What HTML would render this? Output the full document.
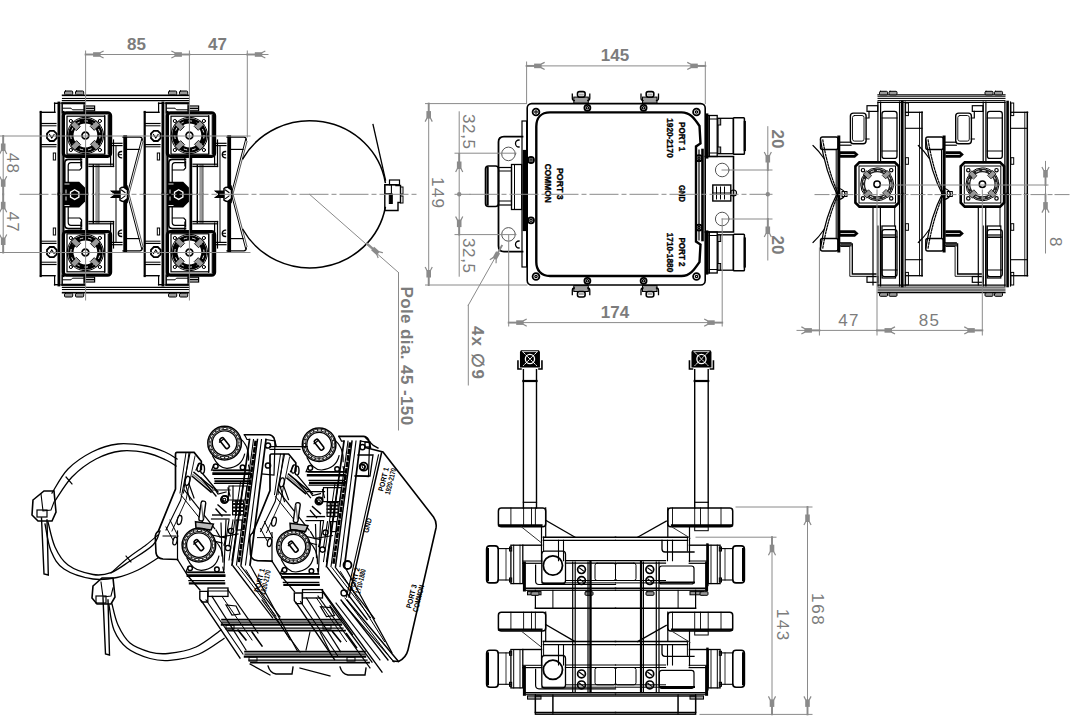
<!DOCTYPE html>
<html><head><meta charset="utf-8"><style>
html,body{margin:0;padding:0;background:#fff;overflow:hidden;width:1070px;height:726px;}
svg{display:block;font-family:"Liberation Sans",sans-serif;}
</style></head><body>
<svg width="1070" height="726" viewBox="0 0 1070 726" stroke-linecap="square">
<defs><g id="lh"><line x1="40.7" y1="112" x2="40.7" y2="194" stroke="#000" stroke-width="2.2"/><line x1="40.5" y1="112.3" x2="55" y2="112.3" stroke="#000" stroke-width="1.4"/><line x1="41" y1="123.5" x2="56" y2="123.5" stroke="#000" stroke-width="1.2"/><line x1="41" y1="125.8" x2="56" y2="125.8" stroke="#000" stroke-width="1"/><line x1="41" y1="144.6" x2="56" y2="144.6" stroke="#000" stroke-width="1.2"/><line x1="41" y1="146.8" x2="56" y2="146.8" stroke="#000" stroke-width="1"/><polygon points="49.8,130.8 53.8,130.8 56.6,133.6 56.6,138.2 53.8,141 49.8,141 47,138.2 47,133.6" fill="none" stroke="#000" stroke-width="1.8"/><path d="M49.5,134.5 L51.8,138 L54.1,134.5" stroke="#000" stroke-width="1.1" fill="none" /><line x1="54.6" y1="103" x2="54.6" y2="112" stroke="#000" stroke-width="1.2"/><line x1="54.6" y1="103.3" x2="62" y2="103.3" stroke="#000" stroke-width="1.4"/><line x1="58.9" y1="103" x2="58.9" y2="194" stroke="#000" stroke-width="2.8"/><line x1="61.3" y1="103" x2="61.3" y2="194" stroke="#999" stroke-width="1.6"/><line x1="63.4" y1="112" x2="63.4" y2="194" stroke="#000" stroke-width="2.2"/><rect x="53.3" y="153" width="2.3" height="7" stroke="#000" stroke-width="1" fill="none" rx="0"/><rect x="62.3" y="103.6" width="21.8" height="9.2" stroke="#000" stroke-width="1.2" fill="none" rx="0"/><path d="M62.8,108.2 H71 L72.5,109.8 H84" stroke="#000" stroke-width="1" fill="none" /><rect x="84.3" y="106" width="10.3" height="4.8" stroke="#000" stroke-width="1.2" fill="#fff" rx="0"/><line x1="85" y1="108.4" x2="94" y2="108.4" stroke="#000" stroke-width="1.6"/><rect x="63.400000000000006" y="112.8" width="47.2" height="43.5" stroke="#000" stroke-width="3.2" fill="none" rx="3"/><rect x="67.0" y="116.2" width="37.8" height="38" stroke="#000" stroke-width="1.2" fill="none" rx="0"/><line x1="104.7" y1="115.5" x2="104.7" y2="153.5" stroke="#000" stroke-width="1"/><line x1="108.30000000000001" y1="115.5" x2="108.30000000000001" y2="153.5" stroke="#000" stroke-width="1.2"/><circle cx="85.4" cy="135.5" r="14.6" stroke="#000" stroke-width="5.4" fill="none"/><circle cx="85.4" cy="135.5" r="14.6" fill="none" stroke="#fff" stroke-width="0.9" stroke-dasharray="2.5,6"/><circle cx="85.4" cy="135.5" r="18.2" stroke="#000" stroke-width="1" fill="none"/><rect x="92.6" y="141.3" width="5.2" height="8" fill="#9a9a9a" stroke="#000" stroke-width="0.8" transform="rotate(135 95.2 145.3)"/><circle cx="99.9" cy="150.0" r="1.6" stroke="#000" stroke-width="1" fill="none"/><rect x="73.0" y="141.3" width="5.2" height="8" fill="#9a9a9a" stroke="#000" stroke-width="0.8" transform="rotate(225 75.6 145.3)"/><circle cx="70.9" cy="150.0" r="1.6" stroke="#000" stroke-width="1" fill="none"/><rect x="73.0" y="121.7" width="5.2" height="8" fill="#9a9a9a" stroke="#000" stroke-width="0.8" transform="rotate(315 75.6 125.7)"/><circle cx="70.9" cy="121.0" r="1.6" stroke="#000" stroke-width="1" fill="none"/><rect x="92.6" y="121.7" width="5.2" height="8" fill="#9a9a9a" stroke="#000" stroke-width="0.8" transform="rotate(405 95.2 125.7)"/><circle cx="99.9" cy="121.0" r="1.6" stroke="#000" stroke-width="1" fill="none"/><circle cx="85.4" cy="135.5" r="3.4" stroke="#000" stroke-width="1.8" fill="none"/><path d="M81.5,159.4 H68.5 Q64.8,159.4 64.8,163 V194" stroke="#000" stroke-width="1.6" fill="none" /><path d="M81.5,162.6 H71 Q68.2,162.6 68.2,166 V194" stroke="#000" stroke-width="1.2" fill="none" /><path d="M68.5,170 H79.8 L81.6,168 V161" stroke="#000" stroke-width="1.2" fill="none" /><line x1="80.8" y1="157.5" x2="80.8" y2="166" stroke="#000" stroke-width="1"/><line x1="86.6" y1="159" x2="86.6" y2="194" stroke="#000" stroke-width="3.2"/><line x1="93.3" y1="165" x2="93.3" y2="194" stroke="#000" stroke-width="1.4"/><line x1="98.8" y1="165" x2="98.8" y2="194" stroke="#000" stroke-width="1.1"/><line x1="97" y1="166" x2="97" y2="194" stroke="#999" stroke-width="3.3"/><line x1="110.6" y1="150" x2="110.6" y2="165" stroke="#000" stroke-width="1.2"/><line x1="113.5" y1="140" x2="113.5" y2="166.5" stroke="#000" stroke-width="1.2"/><line x1="89" y1="164.2" x2="113.5" y2="164.2" stroke="#000" stroke-width="1.2"/><line x1="89" y1="166.4" x2="113.5" y2="166.4" stroke="#000" stroke-width="1.4"/><line x1="112" y1="143.3" x2="122" y2="143.3" stroke="#000" stroke-width="1.2"/><line x1="112" y1="145.6" x2="122" y2="145.6" stroke="#000" stroke-width="1.2"/><line x1="116" y1="145.6" x2="116" y2="194" stroke="#000" stroke-width="1"/><path d="M121.5,151.5 A3.2,3.2 0 0 0 121.5,157.9" stroke="#000" stroke-width="1.4" fill="none" /><line x1="118.5" y1="154.7" x2="121.5" y2="154.7" stroke="#000" stroke-width="1"/><line x1="125.2" y1="137" x2="125.2" y2="194" stroke="#000" stroke-width="3.8"/><path d="M123,137.2 H139.8 Q142.3,137.2 142.3,140" stroke="#000" stroke-width="1.3" fill="none" /><line x1="126.5" y1="149.4" x2="139" y2="149.4" stroke="#000" stroke-width="1.2"/><path d="M141.6,139.5 L127.4,193.5" stroke="#000" stroke-width="1" fill="none" /><path d="M143,141.5 L129,194" stroke="#555" stroke-width="1" fill="none" /></g><g id="lc"><polygon points="63.3,181.8 79.2,181.8 85.2,187.8 85.2,201.4 79.2,207.6 63.3,207.6" fill="#000"/><polygon points="74.7,189.7 78.9,192.1 78.9,197 74.7,199.4 70.5,197 70.5,192.1" fill="none" stroke="#fff" stroke-width="1.3"/><path d="M65,184 h4 M65,205.5 h4 M66,190 v3 M66,197 v3" stroke="#fff" stroke-width="0.9"/><path d="M110,190.6 H120 V198 H110 L113,194.3 Z" fill="#000"/><path d="M111,192.2 L114,194.3 L111,196.4" stroke="#fff" stroke-width="1" fill="none"/><path d="M120,188.5 Q122,186.8 124,187.3 L127.5,190 V198.6 L124,201.3 Q122,201.8 120,200.1 Z" fill="#fff" stroke="#000" stroke-width="1.5"/><path d="M121.5,190 L125,192.5 M121.5,198.6 L125,196" stroke="#000" stroke-width="1.1" fill="none" /><path d="M127.2,186 Q129,194.3 127.2,202.6" stroke="#000" stroke-width="1.2" fill="none" /></g><g id="bh"><line x1="541.5" y1="526.7" x2="541.5" y2="561.5" stroke="#000" stroke-width="1.2"/><line x1="543.6" y1="537" x2="543.6" y2="551" stroke="#000" stroke-width="1"/><line x1="543.4" y1="537.2" x2="615.5" y2="537.2" stroke="#000" stroke-width="1.6"/><line x1="543.4" y1="540.3" x2="615.5" y2="540.3" stroke="#000" stroke-width="1.2"/><line x1="558.5" y1="540.3" x2="558.5" y2="560.7" stroke="#000" stroke-width="1.1"/><line x1="563.5" y1="540.3" x2="563.5" y2="560.7" stroke="#000" stroke-width="1.1"/><rect x="486.6" y="545.9" width="11.6" height="37" stroke="#000" stroke-width="1.6" fill="none" rx="3.2"/><line x1="488" y1="549" x2="488" y2="580" stroke="#000" stroke-width="2"/><line x1="498.2" y1="548.6" x2="510.9" y2="548.6" stroke="#000" stroke-width="1.1"/><line x1="498.2" y1="580" x2="510.9" y2="580" stroke="#000" stroke-width="1.1"/><line x1="506" y1="548.6" x2="506" y2="580" stroke="#000" stroke-width="0.8"/><rect x="510.9" y="545.2" width="11.9" height="38.4" stroke="#000" stroke-width="1.3" fill="none" rx="0"/><line x1="513.7" y1="545.2" x2="513.7" y2="583.6" stroke="#000" stroke-width="1"/><line x1="520" y1="545.2" x2="520" y2="583.6" stroke="#000" stroke-width="0.9"/><rect x="509.5" y="547" width="2.2" height="4" stroke="#000" stroke-width="1" fill="none" rx="0"/><rect x="509.5" y="578" width="2.2" height="4" stroke="#000" stroke-width="1" fill="none" rx="0"/><line x1="522.8" y1="545.2" x2="541.5" y2="545.2" stroke="#000" stroke-width="1.4"/><line x1="524.4" y1="563" x2="524.4" y2="590" stroke="#000" stroke-width="3"/><line x1="522.8" y1="563.3" x2="541.8" y2="563.3" stroke="#000" stroke-width="1.2"/><line x1="522.8" y1="561" x2="541.8" y2="561" stroke="#000" stroke-width="1"/><line x1="565.5" y1="560.7" x2="615.5" y2="560.7" stroke="#000" stroke-width="1.2"/><line x1="565.5" y1="563.2" x2="615.5" y2="563.2" stroke="#000" stroke-width="1.2"/><line x1="565.5" y1="580.5" x2="615.5" y2="580.5" stroke="#000" stroke-width="1"/><line x1="541.8" y1="582.9" x2="615.5" y2="582.9" stroke="#000" stroke-width="1"/><line x1="526" y1="588.4" x2="615.5" y2="588.4" stroke="#000" stroke-width="1.6"/><line x1="526" y1="590.4" x2="615.5" y2="590.4" stroke="#000" stroke-width="1"/><rect x="595" y="563.2" width="20.5" height="17.3" stroke="#000" stroke-width="1" fill="none" rx="2"/><rect x="527.5" y="591.6" width="13.5" height="3.2" stroke="#000" stroke-width="1" fill="#999" rx="0"/><line x1="535.4" y1="590.4" x2="535.4" y2="608.2" stroke="#000" stroke-width="1.2"/><line x1="552.9" y1="590.4" x2="552.9" y2="608.2" stroke="#000" stroke-width="1"/><line x1="535.4" y1="608.2" x2="615.5" y2="608.2" stroke="#000" stroke-width="1.4"/></g><g id="im"><path d="M201.3,469.4 V461.2 L194.1,452.4 H177 Q175.5,452.4 175.5,454.5 V489 L158.3,531.3" stroke="#000" stroke-width="1.7" fill="none" /><path d="M190,452.9 L180.7,500 L166,530" stroke="#000" stroke-width="1.1" fill="none" /><path d="M195,456 L186,500 L172,531" stroke="#000" stroke-width="0.9" fill="none" /><path d="M158.3,531.3 Q155,533 155.3,538 L156,553 Q157,558.5 163,559 L177.5,559.5" stroke="#000" stroke-width="1.6" fill="none" /><line x1="163" y1="536" x2="176" y2="536" stroke="#000" stroke-width="1"/><line x1="177.5" y1="531" x2="177.5" y2="560" stroke="#000" stroke-width="1.2"/><path d="M177.5,559.5 L188,576 L200,590" stroke="#000" stroke-width="1.3" fill="none" /><ellipse cx="199.3" cy="467.4" rx="2" ry="4.2" fill="none" stroke="#000" stroke-width="1.3" transform="rotate(12 199.3 467.4)"/><ellipse cx="187.4" cy="480.8" rx="2.2" ry="4.6" fill="none" stroke="#000" stroke-width="1.3" transform="rotate(12 187.4 480.8)"/><ellipse cx="179.5" cy="520" rx="2.2" ry="4.6" fill="none" stroke="#000" stroke-width="1.3" transform="rotate(12 179.5 520)"/><ellipse cx="175" cy="541" rx="2" ry="4" fill="none" stroke="#000" stroke-width="1.3" transform="rotate(12 175 541)"/><path d="M194.1,472.5 L212.7,488 M192.5,476.5 L211,492" stroke="#000" stroke-width="1.6" fill="none" /><line x1="193" y1="474.5" x2="212" y2="490" stroke="#888" stroke-width="1.5"/><line x1="184.4" y1="490" x2="214.7" y2="528.6" stroke="#000" stroke-width="1.2"/><line x1="181" y1="495" x2="210" y2="531" stroke="#000" stroke-width="1"/><rect x="200" y="501" width="4.6" height="20" rx="2" fill="#fff" stroke="#000" stroke-width="1.4" transform="rotate(8 202 511)"/><line x1="201.5" y1="504" x2="203" y2="518" stroke="#666" stroke-width="1.2"/><path d="M195.5,521.7 L213.4,524 L211,530 L196,528 Z" stroke="#000" stroke-width="1.5" fill="#bbb" /><path d="M186,486 L190,500 M189,484 L194,498" stroke="#000" stroke-width="1.2" fill="none" /><path d="M212.6,456.1 Q218.6,468.6 227.1,468.40000000000003 Q241.6,467.1 244.6,454.1" stroke="#000" stroke-width="1.2" fill="none" /><path d="M238.6,437.1 Q249.6,445.1 248.6,460.1" stroke="#000" stroke-width="1.1" fill="none" /><path d="M213.6,465.1 L211.6,470.1 H249.6 L248.6,465.1" stroke="#000" stroke-width="1.2" fill="none" /><circle cx="215.79999999999998" cy="466.3" r="2.3" stroke="#000" stroke-width="1.5" fill="none"/><circle cx="242.6" cy="467.40000000000003" r="2.3" stroke="#000" stroke-width="1.5" fill="none"/><line x1="213.6" y1="470.5" x2="249.9" y2="470.5" stroke="#000" stroke-width="1.3"/><line x1="213.6" y1="473.6" x2="249.9" y2="473.6" stroke="#000" stroke-width="2.6"/><line x1="214.6" y1="478.70000000000005" x2="249.9" y2="478.70000000000005" stroke="#000" stroke-width="1.3"/><line x1="215.6" y1="481.3" x2="249.9" y2="481.3" stroke="#000" stroke-width="2.2"/><circle cx="224.6" cy="443.1" r="16.8" stroke="#000" stroke-width="1.5" fill="none"/><circle cx="224.6" cy="443.1" r="14.600000000000001" stroke="#222" stroke-width="2.8" fill="none"/><circle cx="224.6" cy="443.1" r="12.3" stroke="#000" stroke-width="1.3" fill="none"/><circle cx="224.6" cy="443.1" r="14.600000000000001" fill="none" stroke="#fff" stroke-width="1.1" stroke-dasharray="1.6,2.4"/><rect x="222.4" y="437.1" width="4.4" height="12" rx="1.5" fill="#fff" stroke="#000" stroke-width="1.6" transform="rotate(-38 224.6 443.1)"/><path d="M219.6,442.1 L223.6,439.1" stroke="#000" stroke-width="1.3" fill="none" /><circle cx="224.4" cy="499.6" r="3.6" stroke="#000" stroke-width="1.6" fill="none"/><circle cx="224.4" cy="499.6" r="1.4" stroke="#000" stroke-width="1.1" fill="none"/><rect x="232.6" y="501" width="11" height="13.8" stroke="#000" stroke-width="1.2" fill="#fff" rx="0"/><path d="M233,504 h10 M233,507.5 h10 M233,511 h10 M236,501 v14 M240,501 v14" stroke="#111" stroke-width="1.8" fill="none" /><path d="M214,488 L218,494 L226,492 M228,488 L230,496" stroke="#000" stroke-width="1.2" fill="none" /><line x1="212.7" y1="515" x2="230" y2="515" stroke="#000" stroke-width="1.4"/><line x1="211.5" y1="519" x2="229" y2="519" stroke="#000" stroke-width="1.2"/><path d="M216,530 L220,537 L238,534" stroke="#000" stroke-width="1.2" fill="none" /><path d="M229,520 L225,546 M233,520 L229,546" stroke="#000" stroke-width="1.1" fill="none" /><path d="M244.5,434.8 H269 Q272,434.8 274,438 L276,446" stroke="#000" stroke-width="1.6" fill="none" /><line x1="249.5" y1="439.5" x2="232" y2="565" stroke="#000" stroke-width="1.7"/><line x1="253.5" y1="439.5" x2="236.5" y2="565" stroke="#000" stroke-width="1.1"/><line x1="257.5" y1="439.5" x2="241" y2="565" stroke="#000" stroke-width="1.5"/><line x1="261.5" y1="439.5" x2="245.5" y2="565" stroke="#000" stroke-width="1.1"/><line x1="266" y1="439.5" x2="250" y2="565" stroke="#000" stroke-width="1.7"/><line x1="255.5" y1="442" x2="238.8" y2="563" stroke="#000" stroke-width="2.6" stroke-dasharray="3,3.5"/><path d="M266,439.5 L275,441 L274,475 L262,474" stroke="#000" stroke-width="1.2" fill="none" /><circle cx="268" cy="445.5" r="2.6" stroke="#000" stroke-width="1.5" fill="none"/><circle cx="268" cy="465.5" r="2.6" stroke="#000" stroke-width="1.5" fill="none"/><path d="M244.5,434.8 L247,439.5 L249.5,439.5" stroke="#000" stroke-width="1.2" fill="none" /><path d="M186,452.6 L180,493 M189,452.6 L183.5,493" stroke="#000" stroke-width="1" fill="none" /><ellipse cx="202.5" cy="469" rx="2" ry="4.5" fill="none" stroke="#000" stroke-width="1.4"/><path d="M203,474 L218,492 M201,478 L216,496" stroke="#000" stroke-width="1.3" fill="none" /><path d="M196,470 L199,464" stroke="#000" stroke-width="1.3" fill="none" /><path d="M170,520 L178,536 M166,527 L173,540" stroke="#000" stroke-width="1" fill="none" /><path d="M214.5,483.5 H249 M213,490 H230 M233,486 V500" stroke="#000" stroke-width="1.2" fill="none" /><circle cx="225" cy="499" r="3.2" stroke="#000" stroke-width="1.6" fill="none"/><path d="M218,505 L226,512 M216,509 L222,516" stroke="#000" stroke-width="1.4" fill="none" /><path d="M229,486 L247,486 L245,500 L228,500 Z" stroke="#000" stroke-width="1.2" fill="none" /><circle cx="231" cy="531" r="2.6" stroke="#000" stroke-width="1.4" fill="none"/><circle cx="228" cy="548" r="2.6" stroke="#000" stroke-width="1.4" fill="none"/><line x1="244" y1="480" x2="232" y2="560" stroke="#000" stroke-width="1.1"/><line x1="240.5" y1="482" x2="229" y2="560" stroke="#000" stroke-width="1"/><path d="M212,535 L226,538 L224,545 M214,541 L222,543" stroke="#000" stroke-width="1.2" fill="none" /><rect x="236" y="520" width="6" height="10" stroke="#000" stroke-width="1.2" fill="none" rx="0"/><path d="M186.9,558.1 Q192.9,570.6 201.4,570.4 Q215.9,569.1 218.9,556.1" stroke="#000" stroke-width="1.2" fill="none" /><path d="M212.9,539.1 Q223.9,547.1 222.9,562.1" stroke="#000" stroke-width="1.1" fill="none" /><path d="M187.9,567.1 L185.9,572.1 H223.9 L222.9,567.1" stroke="#000" stroke-width="1.2" fill="none" /><circle cx="190.1" cy="568.3000000000001" r="2.3" stroke="#000" stroke-width="1.5" fill="none"/><circle cx="216.9" cy="569.4" r="2.3" stroke="#000" stroke-width="1.5" fill="none"/><line x1="187.9" y1="572.5" x2="224.20000000000002" y2="572.5" stroke="#000" stroke-width="1.3"/><line x1="187.9" y1="575.6" x2="224.20000000000002" y2="575.6" stroke="#000" stroke-width="2.6"/><line x1="188.9" y1="580.7" x2="224.20000000000002" y2="580.7" stroke="#000" stroke-width="1.3"/><line x1="189.9" y1="583.3000000000001" x2="224.20000000000002" y2="583.3000000000001" stroke="#000" stroke-width="2.2"/><circle cx="198.9" cy="545.1" r="16.8" stroke="#000" stroke-width="1.5" fill="none"/><circle cx="198.9" cy="545.1" r="14.600000000000001" stroke="#222" stroke-width="2.8" fill="none"/><circle cx="198.9" cy="545.1" r="12.3" stroke="#000" stroke-width="1.3" fill="none"/><circle cx="198.9" cy="545.1" r="14.600000000000001" fill="none" stroke="#fff" stroke-width="1.1" stroke-dasharray="1.6,2.4"/><rect x="196.70000000000002" y="539.1" width="4.4" height="12" rx="1.5" fill="#fff" stroke="#000" stroke-width="1.6" transform="rotate(-38 198.9 545.1)"/><path d="M193.9,544.1 L197.9,541.1" stroke="#000" stroke-width="1.3" fill="none" /><path d="M221,523 L222,556 M226,520 L224,570" stroke="#000" stroke-width="1.2" fill="none" /><rect x="208" y="588" width="20" height="8.4" stroke="#000" stroke-width="1.3" fill="none" rx="0"/><line x1="208" y1="591" x2="228" y2="591" stroke="#000" stroke-width="1"/><path d="M199.8,591.4 h8 v10.6 h-6 l-2,-3 z" stroke="#000" stroke-width="1.4" fill="none" /><line x1="201.5" y1="601" x2="240" y2="658" stroke="#000" stroke-width="1.4"/><line x1="206" y1="600" x2="243" y2="654" stroke="#000" stroke-width="1.1"/><line x1="212" y1="596.4" x2="246" y2="650" stroke="#000" stroke-width="1.2"/><line x1="222" y1="596.4" x2="252" y2="640" stroke="#000" stroke-width="1"/><line x1="228" y1="590" x2="258" y2="633" stroke="#000" stroke-width="1.2"/><line x1="233" y1="566" x2="272.6" y2="617.9" stroke="#000" stroke-width="1.3"/><line x1="237.5" y1="566" x2="276" y2="616" stroke="#000" stroke-width="1"/><line x1="241" y1="566" x2="280" y2="617" stroke="#000" stroke-width="1.2"/><line x1="250.7" y1="566" x2="297.4" y2="651" stroke="#000" stroke-width="1.2"/><line x1="246" y1="570" x2="290" y2="640" stroke="#000" stroke-width="1"/><path d="M226,605 L232,615 L240,614 L236,606 Z" stroke="#000" stroke-width="1.2" fill="none" /><path d="M238,630 L246,640 M252,632 L262,646" stroke="#000" stroke-width="1.6" fill="none" /></g><g id="rh"><rect x="820.5" y="137" width="17.5" height="12.5" stroke="#000" stroke-width="1.4" fill="none" rx="2"/><line x1="838.8" y1="137" x2="838.8" y2="194" stroke="#000" stroke-width="3"/><line x1="836.2" y1="149.5" x2="836.2" y2="194" stroke="#000" stroke-width="1"/><path d="M820.5,140 Q825.5,172 837.2,194.5" stroke="#000" stroke-width="1.3" fill="none" /><path d="M822.8,140 Q828,171 838.6,194.5" stroke="#000" stroke-width="1.2" fill="none" stroke-dasharray="2,1.5"/><path d="M813,145.5 Q819,151 824,158.5" stroke="#000" stroke-width="1.1" fill="none" /><path d="M840,151.3 H855 L858.6,154.5 L855,157.7 H840 Z" fill="#000"/><line x1="841" y1="154.5" x2="854" y2="154.5" stroke="#fff" stroke-width="0.8"/><line x1="839.8" y1="142.2" x2="851" y2="142.2" stroke="#000" stroke-width="1.2"/><line x1="839.8" y1="145.2" x2="851" y2="145.2" stroke="#000" stroke-width="1.2"/><rect x="867" y="105.7" width="10.7" height="5.7" stroke="#000" stroke-width="1.2" fill="none" rx="0"/><line x1="877.9" y1="102" x2="877.9" y2="162" stroke="#000" stroke-width="1.2"/><line x1="880.6" y1="102" x2="880.6" y2="162" stroke="#000" stroke-width="1.2"/><rect x="882" y="111.4" width="15" height="47" stroke="#000" stroke-width="1.3" fill="none" rx="2.5"/><line x1="882" y1="118" x2="897" y2="118" stroke="#000" stroke-width="1"/><line x1="882" y1="151" x2="897" y2="151" stroke="#000" stroke-width="1"/><line x1="899.6" y1="102" x2="899.6" y2="194" stroke="#000" stroke-width="1.3"/><line x1="902.3" y1="102" x2="902.3" y2="194" stroke="#000" stroke-width="2.6"/><line x1="905.2" y1="102" x2="905.2" y2="194" stroke="#000" stroke-width="1.2"/><rect x="905.6" y="103" width="2.8" height="12.6" stroke="#000" stroke-width="1" fill="none" rx="0"/><rect x="905.6" y="157.7" width="2.8" height="6.6" stroke="#000" stroke-width="1" fill="none" rx="0"/><line x1="905.6" y1="112.3" x2="922.3" y2="112.3" stroke="#000" stroke-width="1.3"/><line x1="922" y1="112.3" x2="922" y2="194" stroke="#000" stroke-width="1.5"/><line x1="919.5" y1="112.3" x2="919.5" y2="194" stroke="#000" stroke-width="0.9"/><line x1="905.6" y1="128.3" x2="922" y2="128.3" stroke="#000" stroke-width="1.1"/></g><g id="rc"><rect x="850.4" y="113.1" width="15.7" height="30.6" stroke="#000" stroke-width="1.4" fill="none" rx="3"/><rect x="852.5" y="115.5" width="11.5" height="25.6" stroke="#000" stroke-width="0.9" fill="none" rx="2"/><path d="M866,118 H869 V111.4 M866,139 H869" stroke="#000" stroke-width="1.2" fill="none" /><polygon points="859.4,162.4 894.8,162.4 898.8,166.4 898.8,202.6 894.8,206.6 859.4,206.6 855.4,202.6 855.4,166.4" fill="none" stroke="#000" stroke-width="2.6"/><rect x="859" y="166" width="36.5" height="37" stroke="#000" stroke-width="1" fill="none" rx="0"/><circle cx="877.1" cy="184.3" r="13.8" stroke="#222" stroke-width="3.6" fill="none"/><circle cx="877.1" cy="184.3" r="16.4" stroke="#000" stroke-width="1" fill="none"/><circle cx="877.1" cy="184.3" r="13.8" fill="none" stroke="#fff" stroke-width="0.9" stroke-dasharray="2.5,4"/><circle cx="891.2" cy="198.4" r="1.7" stroke="#000" stroke-width="1.2" fill="none"/><rect x="884.4" y="190.3" width="4.4" height="7" fill="#999" stroke="#000" stroke-width="0.7" transform="rotate(135 886.6 193.8)"/><circle cx="863.0" cy="198.4" r="1.7" stroke="#000" stroke-width="1.2" fill="none"/><rect x="865.4" y="190.3" width="4.4" height="7" fill="#999" stroke="#000" stroke-width="0.7" transform="rotate(225 867.6 193.8)"/><circle cx="863.0" cy="170.2" r="1.7" stroke="#000" stroke-width="1.2" fill="none"/><rect x="865.4" y="171.3" width="4.4" height="7" fill="#999" stroke="#000" stroke-width="0.7" transform="rotate(315 867.6 174.8)"/><circle cx="891.2" cy="170.2" r="1.7" stroke="#000" stroke-width="1.2" fill="none"/><rect x="884.4" y="171.3" width="4.4" height="7" fill="#999" stroke="#000" stroke-width="0.7" transform="rotate(405 886.6 174.8)"/><circle cx="877.1" cy="184.3" r="3.2" stroke="#000" stroke-width="1.5" fill="none"/><line x1="873" y1="207" x2="873" y2="285" stroke="#000" stroke-width="1.2"/><line x1="880.4" y1="207" x2="880.4" y2="285" stroke="#000" stroke-width="1.2"/><rect x="882" y="226" width="13.5" height="52" stroke="#000" stroke-width="1.2" fill="none" rx="0"/><line x1="882" y1="235" x2="895.5" y2="235" stroke="#000" stroke-width="1.2"/><line x1="882" y1="237.5" x2="895.5" y2="237.5" stroke="#000" stroke-width="1"/><line x1="894.7" y1="207" x2="894.7" y2="226" stroke="#000" stroke-width="1"/><path d="M841,244 H852.3 V274 H876" stroke="#000" stroke-width="1.3" fill="none" /><path d="M841,246.5 H849.8 V276.3 H876" stroke="#000" stroke-width="0.9" fill="none" /><path d="M838,188 Q845,190 845,194 Q845,198 838,200" stroke="#000" stroke-width="1.3" fill="none" /><rect x="842" y="191.5" width="5" height="5" stroke="#000" stroke-width="1" fill="none" rx="0"/></g></defs>
<use href="#lh"/>
<use href="#lh" transform="translate(0,388) scale(1,-1)"/>
<use href="#lc"/>
<use href="#lh" transform="translate(104,0)"/>
<use href="#lh" transform="translate(104,388) scale(1,-1)"/>
<use href="#lc" transform="translate(104,0)"/>
<line x1="62.5" y1="95.2" x2="189" y2="95.2" stroke="#000" stroke-width="1.4"/><line x1="62.5" y1="98.5" x2="189" y2="98.5" stroke="#000" stroke-width="1.1"/><line x1="62.5" y1="100.6" x2="189" y2="100.6" stroke="#000" stroke-width="1.4"/><line x1="62.3" y1="103.1" x2="84.3" y2="103.1" stroke="#000" stroke-width="2.0"/><line x1="166.3" y1="103.1" x2="188.3" y2="103.1" stroke="#000" stroke-width="2.0"/><line x1="62.5" y1="96.8" x2="189" y2="96.8" stroke="#bbb" stroke-width="0.8"/><rect x="64.5" y="91.0" width="8.2" height="3.8" stroke="#000" stroke-width="1" fill="#9a9a9a" rx="1"/><rect x="75.5" y="91.0" width="8.2" height="3.8" stroke="#000" stroke-width="1" fill="#9a9a9a" rx="1"/><rect x="168.5" y="91.0" width="8.2" height="3.8" stroke="#000" stroke-width="1" fill="#9a9a9a" rx="1"/><rect x="179.5" y="91.0" width="8.2" height="3.8" stroke="#000" stroke-width="1" fill="#9a9a9a" rx="1"/>
<line x1="62.5" y1="292.8" x2="189" y2="292.8" stroke="#000" stroke-width="1.4"/><line x1="62.5" y1="289.5" x2="189" y2="289.5" stroke="#000" stroke-width="1.1"/><line x1="62.5" y1="287.4" x2="189" y2="287.4" stroke="#000" stroke-width="1.4"/><line x1="62.3" y1="284.9" x2="84.3" y2="284.9" stroke="#000" stroke-width="2.0"/><line x1="166.3" y1="284.9" x2="188.3" y2="284.9" stroke="#000" stroke-width="2.0"/><line x1="62.5" y1="291.2" x2="189" y2="291.2" stroke="#bbb" stroke-width="0.8"/><rect x="64.5" y="293.2" width="8.2" height="3.8" stroke="#000" stroke-width="1" fill="#9a9a9a" rx="1"/><rect x="75.5" y="293.2" width="8.2" height="3.8" stroke="#000" stroke-width="1" fill="#9a9a9a" rx="1"/><rect x="168.5" y="293.2" width="8.2" height="3.8" stroke="#000" stroke-width="1" fill="#9a9a9a" rx="1"/><rect x="179.5" y="293.2" width="8.2" height="3.8" stroke="#000" stroke-width="1" fill="#9a9a9a" rx="1"/>
<path d="M242.9,158.7 A76.5,73.7 0 0 1 385.3,182.5" stroke="#000" stroke-width="1.5" fill="none" />
<path d="M385.3,207.5 A76.5,73.7 0 0 1 242.9,229.5" stroke="#000" stroke-width="1.5" fill="none" />
<path d="M373,124.5 L385.5,180" stroke="#000" stroke-width="1.3" fill="none" />
<path d="M384.8,184.7 V210.5 H398 V202.5 H400.5 V185.5 H396 V184.7 Z" stroke="#000" stroke-width="1.4" fill="none" />
<rect x="389.5" y="180" width="10" height="4.7" stroke="#000" stroke-width="1.2" fill="none" rx="0"/>
<rect x="400.5" y="187" width="2.5" height="7" stroke="#000" stroke-width="1" fill="none" rx="0"/>
<rect x="400.5" y="196" width="2.5" height="7" stroke="#000" stroke-width="1" fill="none" rx="0"/>
<rect x="384.8" y="184.7" width="6.6" height="9" stroke="#000" stroke-width="1.1" fill="none" rx="0"/>
<rect x="389.3" y="194" width="3" height="9.5" stroke="#000" stroke-width="1" fill="#000" rx="0"/>
<rect x="527.2" y="103.6" width="178" height="181.4" stroke="#000" stroke-width="1.6" fill="none" rx="4.5"/><path d="M550,112.4 H681.5 C690,112.4 694,118 699.5,126 L700.5,143.5 L696,146.5 V241.5 L700.5,244.5 L699.5,262 C694,270 690,276 681.5,276 H550 C541,276 536.3,270 536.3,262 V126.5 C536.3,118 541,112.4 550,112.4 Z" stroke="#000" stroke-width="2.4" fill="none" /><circle cx="536" cy="112" r="3.4" stroke="#000" stroke-width="1.8" fill="none"/><circle cx="536" cy="112" r="1.2" stroke="#000" stroke-width="1.2" fill="none"/><circle cx="536" cy="276.5" r="3.4" stroke="#000" stroke-width="1.8" fill="none"/><circle cx="536" cy="276.5" r="1.2" stroke="#000" stroke-width="1.2" fill="none"/><circle cx="696.5" cy="112" r="3.4" stroke="#000" stroke-width="1.8" fill="none"/><circle cx="696.5" cy="112" r="1.2" stroke="#000" stroke-width="1.2" fill="none"/><circle cx="696.5" cy="276.5" r="3.4" stroke="#000" stroke-width="1.8" fill="none"/><circle cx="696.5" cy="276.5" r="1.2" stroke="#000" stroke-width="1.2" fill="none"/><rect x="573.8" y="97.1" width="14.5" height="5.9" fill="#a0a0a0" stroke="#000" stroke-width="1"/><path d="M572.3,94.1 V98.1 Q572.3,100.6 574.3,100.6 M589.8,94.1 V98.1 Q589.8,100.6 587.8,100.6" stroke="#000" stroke-width="1.3" fill="none" /><rect x="577.5" y="91.6" width="7.6" height="5.5" rx="2" fill="#fff" stroke="#000" stroke-width="1.6"/><rect x="578.8" y="93.6" width="5" height="2.0" fill="#aaa"/><rect x="573.8" y="285.6" width="14.5" height="5.9" fill="#a0a0a0" stroke="#000" stroke-width="1"/><path d="M572.3,294.5 V290.5 Q572.3,288.0 574.3,288.0 M589.8,294.5 V290.5 Q589.8,288.0 587.8,288.0" stroke="#000" stroke-width="1.3" fill="none" /><rect x="577.5" y="291.5" width="7.6" height="5.5" rx="2" fill="#fff" stroke="#000" stroke-width="1.6"/><rect x="578.8" y="293.0" width="5" height="2.0" fill="#aaa"/><circle cx="587.4" cy="107.8" r="3" stroke="#000" stroke-width="1.8" fill="none"/><circle cx="587.4" cy="107.8" r="1.2" stroke="#000" stroke-width="1.2" fill="none"/><circle cx="587.4" cy="280.8" r="3" stroke="#000" stroke-width="1.8" fill="none"/><circle cx="587.4" cy="280.8" r="1.2" stroke="#000" stroke-width="1.2" fill="none"/><rect x="642.5" y="97.1" width="14.5" height="5.9" fill="#a0a0a0" stroke="#000" stroke-width="1"/><path d="M641,94.1 V98.1 Q641,100.6 643,100.6 M658.5,94.1 V98.1 Q658.5,100.6 656.5,100.6" stroke="#000" stroke-width="1.3" fill="none" /><rect x="646.2" y="91.6" width="7.6" height="5.5" rx="2" fill="#fff" stroke="#000" stroke-width="1.6"/><rect x="647.5" y="93.6" width="5" height="2.0" fill="#aaa"/><rect x="642.5" y="285.6" width="14.5" height="5.9" fill="#a0a0a0" stroke="#000" stroke-width="1"/><path d="M641,294.5 V290.5 Q641,288.0 643,288.0 M658.5,294.5 V290.5 Q658.5,288.0 656.5,288.0" stroke="#000" stroke-width="1.3" fill="none" /><rect x="646.2" y="291.5" width="7.6" height="5.5" rx="2" fill="#fff" stroke="#000" stroke-width="1.6"/><rect x="647.5" y="293.0" width="5" height="2.0" fill="#aaa"/><circle cx="643.6" cy="107.8" r="3" stroke="#000" stroke-width="1.8" fill="none"/><circle cx="643.6" cy="107.8" r="1.2" stroke="#000" stroke-width="1.2" fill="none"/><circle cx="643.6" cy="280.8" r="3" stroke="#000" stroke-width="1.8" fill="none"/><circle cx="643.6" cy="280.8" r="1.2" stroke="#000" stroke-width="1.2" fill="none"/><path d="M522.5,136.6 H504 Q498.5,136.6 498.5,142 V246 Q498.5,251.6 504,251.6 H522.5" stroke="#000" stroke-width="1.8" fill="none" /><circle cx="508.5" cy="153.9" r="6.8" stroke="#555" stroke-width="1" fill="none"/><circle cx="508.5" cy="234.4" r="6.8" stroke="#555" stroke-width="1" fill="none"/><rect x="522" y="121" width="4.6" height="146" stroke="#000" stroke-width="1.2" fill="none" rx="0"/><line x1="524.8" y1="152" x2="524.8" y2="229" stroke="#000" stroke-width="4.2"/><path d="M519,140 A3.5,3.5 0 0 0 519,147 M519,241 A3.5,3.5 0 0 0 519,248" stroke="#000" stroke-width="1.3" fill="none" /><circle cx="531" cy="160" r="3" stroke="#000" stroke-width="1.8" fill="none"/><circle cx="531" cy="160" r="1.2" stroke="#000" stroke-width="1.2" fill="none"/><circle cx="531" cy="220.3" r="3" stroke="#000" stroke-width="1.8" fill="none"/><circle cx="531" cy="220.3" r="1.2" stroke="#000" stroke-width="1.2" fill="none"/><rect x="485.5" y="166" width="13" height="40.5" stroke="#000" stroke-width="1.6" fill="none" rx="3"/><line x1="487.6" y1="168" x2="487.6" y2="204.5" stroke="#000" stroke-width="2.2"/><rect x="498.5" y="167.5" width="13" height="37.5" stroke="#000" stroke-width="1.2" fill="none" rx="0"/><rect x="511.5" y="164.5" width="10.2" height="45" stroke="#000" stroke-width="1.3" fill="none" rx="0"/><line x1="514.5" y1="165" x2="514.5" y2="209" stroke="#000" stroke-width="1"/><line x1="498.5" y1="171" x2="511.5" y2="171" stroke="#000" stroke-width="1"/><line x1="498.5" y1="201" x2="511.5" y2="201" stroke="#000" stroke-width="1"/><path d="M705.3,156.5 H733.5 V232 H705.3" stroke="#000" stroke-width="1.6" fill="none" /><line x1="699" y1="150" x2="699" y2="240" stroke="#000" stroke-width="1.2"/><line x1="702.5" y1="150" x2="702.5" y2="240" stroke="#000" stroke-width="2.6"/><circle cx="722.2" cy="170" r="6.8" stroke="#555" stroke-width="1" fill="none"/><circle cx="722.2" cy="219" r="6.8" stroke="#555" stroke-width="1" fill="none"/><line x1="706.8" y1="115" x2="706.8" y2="157" stroke="#000" stroke-width="3.2"/><line x1="706.8" y1="232" x2="706.8" y2="273" stroke="#000" stroke-width="3.2"/><circle cx="699" cy="158.2" r="3" stroke="#000" stroke-width="1.8" fill="none"/><circle cx="699" cy="158.2" r="1.2" stroke="#000" stroke-width="1.2" fill="none"/><circle cx="699" cy="227.6" r="3" stroke="#000" stroke-width="1.8" fill="none"/><circle cx="699" cy="227.6" r="1.2" stroke="#000" stroke-width="1.2" fill="none"/><rect x="712.8" y="185" width="18" height="16" stroke="#000" stroke-width="1.4" fill="none" rx="0"/><line x1="716.5" y1="187" x2="716.5" y2="199" stroke="#000" stroke-width="1"/><line x1="720.5" y1="187" x2="720.5" y2="199" stroke="#000" stroke-width="1"/><line x1="724.5" y1="187" x2="724.5" y2="199" stroke="#000" stroke-width="1"/><line x1="713" y1="193" x2="731" y2="193" stroke="#000" stroke-width="1"/><circle cx="733.5" cy="193" r="3" stroke="#000" stroke-width="1.2" fill="none"/><rect x="706" y="115.5" width="3.2" height="41.0" stroke="#000" stroke-width="1.2" fill="none" rx="0"/><rect x="709.2" y="115.5" width="8" height="41.0" stroke="#000" stroke-width="1.3" fill="none" rx="0"/><rect x="718" y="118.3" width="15.4" height="35.4" stroke="#000" stroke-width="1.3" fill="none" rx="0"/><rect x="733.4" y="117.8" width="11" height="36.4" stroke="#000" stroke-width="1.5" fill="none" rx="0.8"/><line x1="744.8" y1="122.0" x2="744.8" y2="150.0" stroke="#000" stroke-width="2.2"/><rect x="717.7" y="118.5" width="3" height="6.5" stroke="#000" stroke-width="1" fill="#aaa" rx="0"/><rect x="717.7" y="147.0" width="3" height="6.5" stroke="#000" stroke-width="1" fill="#aaa" rx="0"/><line x1="709.2" y1="119.0" x2="717.2" y2="119.0" stroke="#000" stroke-width="1"/><line x1="709.2" y1="153.0" x2="717.2" y2="153.0" stroke="#000" stroke-width="1"/><rect x="706" y="232" width="3.2" height="41" stroke="#000" stroke-width="1.2" fill="none" rx="0"/><rect x="709.2" y="232" width="8" height="41" stroke="#000" stroke-width="1.3" fill="none" rx="0"/><rect x="718" y="234.8" width="15.4" height="35.4" stroke="#000" stroke-width="1.3" fill="none" rx="0"/><rect x="733.4" y="234.3" width="11" height="36.4" stroke="#000" stroke-width="1.5" fill="none" rx="0.8"/><line x1="744.8" y1="238.5" x2="744.8" y2="266.5" stroke="#000" stroke-width="2.2"/><rect x="717.7" y="235" width="3" height="6.5" stroke="#000" stroke-width="1" fill="#aaa" rx="0"/><rect x="717.7" y="263.5" width="3" height="6.5" stroke="#000" stroke-width="1" fill="#aaa" rx="0"/><line x1="709.2" y1="235.5" x2="717.2" y2="235.5" stroke="#000" stroke-width="1"/><line x1="709.2" y1="269.5" x2="717.2" y2="269.5" stroke="#000" stroke-width="1"/><text x="0" y="0" font-size="9.5" font-family="Liberation Sans" font-weight="bold" fill="#000" stroke="#000" stroke-width="0.35" text-anchor="middle" dominant-baseline="central" transform="translate(560.5,183.8) rotate(90) scale(0.92,1)">PORT 3</text><text x="0" y="0" font-size="9.5" font-family="Liberation Sans" font-weight="bold" fill="#000" stroke="#000" stroke-width="0.35" text-anchor="middle" dominant-baseline="central" transform="translate(548.5,183.2) rotate(90) scale(0.88,1)">COMMON</text><text x="0" y="0" font-size="9.5" font-family="Liberation Sans" font-weight="bold" fill="#000" stroke="#000" stroke-width="0.35" text-anchor="middle" dominant-baseline="central" transform="translate(682.6,136.6) rotate(90) scale(0.85,1)">PORT 1</text><text x="0" y="0" font-size="9.5" font-family="Liberation Sans" font-weight="bold" fill="#000" stroke="#000" stroke-width="0.35" text-anchor="middle" dominant-baseline="central" transform="translate(670.7,138) rotate(90) scale(0.87,1)">1920-2170</text><text x="0" y="0" font-size="9.5" font-family="Liberation Sans" font-weight="bold" fill="#000" stroke="#000" stroke-width="0.35" text-anchor="middle" dominant-baseline="central" transform="translate(681.8,252) rotate(90) scale(0.85,1)">PORT 2</text><text x="0" y="0" font-size="9.5" font-family="Liberation Sans" font-weight="bold" fill="#000" stroke="#000" stroke-width="0.35" text-anchor="middle" dominant-baseline="central" transform="translate(670.7,252.5) rotate(90) scale(0.87,1)">1710-1880</text><text x="0" y="0" font-size="9.5" font-family="Liberation Sans" font-weight="bold" fill="#000" stroke="#000" stroke-width="0.35" text-anchor="middle" dominant-baseline="central" transform="translate(682.3,193.5) rotate(90) scale(0.8,1)">GND</text>
<use href="#bh" transform="translate(0,0)"/><use href="#bh" transform="translate(1231,0) scale(-1,1)"/><rect x="498.4" y="507.9" width="47.3" height="18.8" stroke="#000" stroke-width="1.5" fill="none" rx="3"/><line x1="499" y1="525.3" x2="541.5" y2="525.3" stroke="#000" stroke-width="2.2"/><line x1="510.9" y1="508" x2="510.9" y2="525" stroke="#000" stroke-width="0.9"/><line x1="523.6" y1="508" x2="523.6" y2="525" stroke="#000" stroke-width="0.9"/><line x1="531.5" y1="508" x2="531.5" y2="525" stroke="#000" stroke-width="0.9"/><line x1="535.4" y1="508" x2="535.4" y2="525" stroke="#000" stroke-width="0.9"/><line x1="545.7" y1="520.3" x2="575" y2="537.2" stroke="#000" stroke-width="1.3"/><line x1="545.7" y1="507.9" x2="545.7" y2="537.2" stroke="#000" stroke-width="1.2"/><line x1="521.2" y1="526.7" x2="541" y2="542.5" stroke="#333" stroke-width="1"/><rect x="667.8" y="507.9" width="64.9" height="18.8" stroke="#000" stroke-width="1.5" fill="none" rx="3"/><line x1="672" y1="525.3" x2="732" y2="525.3" stroke="#000" stroke-width="2.2"/><line x1="672.5" y1="508" x2="672.5" y2="525" stroke="#000" stroke-width="0.9"/><line x1="694.7" y1="508" x2="694.7" y2="525" stroke="#000" stroke-width="0.9"/><line x1="700.5" y1="508" x2="700.5" y2="525" stroke="#000" stroke-width="0.9"/><line x1="708.2" y1="508" x2="708.2" y2="525" stroke="#000" stroke-width="0.9"/><line x1="721" y1="508" x2="721" y2="525" stroke="#000" stroke-width="0.9"/><line x1="666.2" y1="521.1" x2="637.7" y2="537.2" stroke="#000" stroke-width="1.3"/><line x1="667.8" y1="507.9" x2="667.8" y2="537.2" stroke="#000" stroke-width="1.2"/><line x1="672" y1="527" x2="690" y2="538" stroke="#333" stroke-width="1"/><rect x="694.7" y="526.7" width="13.5" height="4" stroke="#000" stroke-width="1" fill="none" rx="0"/><line x1="523.4" y1="369.7" x2="523.4" y2="508" stroke="#000" stroke-width="1.4"/><line x1="536.5" y1="369.7" x2="536.5" y2="508" stroke="#000" stroke-width="1.4"/><line x1="523.4" y1="381" x2="536.5" y2="381" stroke="#000" stroke-width="2.2"/><line x1="523.4" y1="502.3" x2="536.5" y2="502.3" stroke="#000" stroke-width="1.2"/><path d="M520.95,350.3 H538.95 L539.95,352 V367.5 H519.95 V352 Z" fill="#000"/><path d="M517.95,361 V369 H520.95 M541.95,361 V369 H538.95" stroke="#000" stroke-width="1.6" fill="none"/><circle cx="529.95" cy="359" r="4.6" fill="none" stroke="#fff" stroke-width="1.3"/><path d="M523.45,352.5 L536.45,365.5 M536.45,352.5 L523.45,365.5" stroke="#fff" stroke-width="1" stroke-dasharray="2,1.5"/><line x1="522.45" y1="351.6" x2="537.45" y2="351.6" stroke="#fff" stroke-width="0.8"/><line x1="694.7" y1="369.7" x2="694.7" y2="508" stroke="#000" stroke-width="1.4"/><line x1="708.2" y1="369.7" x2="708.2" y2="508" stroke="#000" stroke-width="1.4"/><line x1="694.7" y1="381" x2="708.2" y2="381" stroke="#000" stroke-width="2.2"/><line x1="694.7" y1="502.3" x2="708.2" y2="502.3" stroke="#000" stroke-width="1.2"/><path d="M692.45,350.3 H710.45 L711.45,352 V367.5 H691.45 V352 Z" fill="#000"/><path d="M689.45,361 V369 H692.45 M713.45,361 V369 H710.45" stroke="#000" stroke-width="1.6" fill="none"/><circle cx="701.45" cy="359" r="4.6" fill="none" stroke="#fff" stroke-width="1.3"/><path d="M694.95,352.5 L707.95,365.5 M707.95,352.5 L694.95,365.5" stroke="#fff" stroke-width="1" stroke-dasharray="2,1.5"/><line x1="693.95" y1="351.6" x2="708.95" y2="351.6" stroke="#fff" stroke-width="0.8"/><circle cx="552.9" cy="565.5" r="9.6" stroke="#000" stroke-width="1.8" fill="none"/><rect x="541.8" y="551.2" width="23.7" height="32.5" stroke="#000" stroke-width="1.3" fill="none" rx="3"/><path d="M535.6,565 V581 Q535.6,584.5 539,584.5 H615.5" stroke="#000" stroke-width="1.2" fill="none" /><path d="M662,540.3 V549 Q662,552 665,552 H694" stroke="#000" stroke-width="1.3" fill="none" /><rect x="659.3" y="566" width="34.7" height="18" stroke="#000" stroke-width="1.2" fill="none" rx="2.5"/><line x1="660" y1="582.6" x2="694" y2="582.6" stroke="#000" stroke-width="2"/><line x1="707.4" y1="544.5" x2="707.4" y2="585" stroke="#000" stroke-width="2.4"/><circle cx="581.5" cy="569.6" r="3.9" stroke="#000" stroke-width="1.7" fill="none"/><circle cx="581.5" cy="580.6" r="3.9" stroke="#000" stroke-width="1.7" fill="none"/><path d="M579.5,568 l4,3 M579.5,579 l4,3" stroke="#000" stroke-width="1.1" fill="none" /><circle cx="649.8" cy="569.6" r="3.9" stroke="#000" stroke-width="1.7" fill="none"/><circle cx="649.8" cy="580.6" r="3.9" stroke="#000" stroke-width="1.7" fill="none"/><path d="M647.8,568 l4,3 M647.8,579 l4,3" stroke="#000" stroke-width="1.1" fill="none" /><rect x="531" y="591.7" width="8" height="3.6" stroke="#000" stroke-width="1" fill="#999" rx="1"/><rect x="585" y="591.7" width="8" height="3.6" stroke="#000" stroke-width="1" fill="#999" rx="1"/><rect x="646" y="591.7" width="8" height="3.6" stroke="#000" stroke-width="1" fill="#999" rx="1"/><rect x="700" y="591.7" width="8" height="3.6" stroke="#000" stroke-width="1" fill="#999" rx="1"/><use href="#bh" transform="translate(0,104.3)"/><use href="#bh" transform="translate(1231,104.3) scale(-1,1)"/><rect x="498.4" y="612.1999999999999" width="47.3" height="18.8" stroke="#000" stroke-width="1.5" fill="none" rx="3"/><line x1="499" y1="629.5999999999999" x2="541.5" y2="629.5999999999999" stroke="#000" stroke-width="2.2"/><line x1="510.9" y1="612.3" x2="510.9" y2="629.3" stroke="#000" stroke-width="0.9"/><line x1="523.6" y1="612.3" x2="523.6" y2="629.3" stroke="#000" stroke-width="0.9"/><line x1="531.5" y1="612.3" x2="531.5" y2="629.3" stroke="#000" stroke-width="0.9"/><line x1="535.4" y1="612.3" x2="535.4" y2="629.3" stroke="#000" stroke-width="0.9"/><line x1="545.7" y1="624.5999999999999" x2="575" y2="641.5" stroke="#000" stroke-width="1.3"/><line x1="545.7" y1="612.1999999999999" x2="545.7" y2="641.5" stroke="#000" stroke-width="1.2"/><line x1="521.2" y1="631.0" x2="541" y2="646.8" stroke="#333" stroke-width="1"/><rect x="667.8" y="612.1999999999999" width="64.9" height="18.8" stroke="#000" stroke-width="1.5" fill="none" rx="3"/><line x1="672" y1="629.5999999999999" x2="732" y2="629.5999999999999" stroke="#000" stroke-width="2.2"/><line x1="672.5" y1="612.3" x2="672.5" y2="629.3" stroke="#000" stroke-width="0.9"/><line x1="694.7" y1="612.3" x2="694.7" y2="629.3" stroke="#000" stroke-width="0.9"/><line x1="700.5" y1="612.3" x2="700.5" y2="629.3" stroke="#000" stroke-width="0.9"/><line x1="708.2" y1="612.3" x2="708.2" y2="629.3" stroke="#000" stroke-width="0.9"/><line x1="721" y1="612.3" x2="721" y2="629.3" stroke="#000" stroke-width="0.9"/><line x1="666.2" y1="625.4" x2="637.7" y2="641.5" stroke="#000" stroke-width="1.3"/><line x1="667.8" y1="612.1999999999999" x2="667.8" y2="641.5" stroke="#000" stroke-width="1.2"/><line x1="672" y1="631.3" x2="690" y2="642.3" stroke="#333" stroke-width="1"/><rect x="694.7" y="631.0" width="13.5" height="4" stroke="#000" stroke-width="1" fill="none" rx="0"/><circle cx="552.9" cy="669.8" r="9.6" stroke="#000" stroke-width="1.8" fill="none"/><rect x="541.8" y="655.5" width="23.7" height="32.5" stroke="#000" stroke-width="1.3" fill="none" rx="3"/><path d="M535.6,669.3 V685.3 Q535.6,688.8 539,688.8 H615.5" stroke="#000" stroke-width="1.2" fill="none" /><path d="M662,644.5999999999999 V653.3 Q662,656.3 665,656.3 H694" stroke="#000" stroke-width="1.3" fill="none" /><rect x="659.3" y="670.3" width="34.7" height="18" stroke="#000" stroke-width="1.2" fill="none" rx="2.5"/><line x1="660" y1="686.9" x2="694" y2="686.9" stroke="#000" stroke-width="2"/><line x1="707.4" y1="648.8" x2="707.4" y2="689.3" stroke="#000" stroke-width="2.4"/><circle cx="581.5" cy="673.9" r="3.9" stroke="#000" stroke-width="1.7" fill="none"/><circle cx="581.5" cy="684.9" r="3.9" stroke="#000" stroke-width="1.7" fill="none"/><path d="M579.5,672.3 l4,3 M579.5,683.3 l4,3" stroke="#000" stroke-width="1.1" fill="none" /><circle cx="649.8" cy="673.9" r="3.9" stroke="#000" stroke-width="1.7" fill="none"/><circle cx="649.8" cy="684.9" r="3.9" stroke="#000" stroke-width="1.7" fill="none"/><path d="M647.8,672.3 l4,3 M647.8,683.3 l4,3" stroke="#000" stroke-width="1.1" fill="none" /><rect x="531" y="800.3" width="8" height="3.6" stroke="#000" stroke-width="1" fill="#999" rx="1"/><rect x="585" y="800.3" width="8" height="3.6" stroke="#000" stroke-width="1" fill="#999" rx="1"/><rect x="646" y="800.3" width="8" height="3.6" stroke="#000" stroke-width="1" fill="#999" rx="1"/><rect x="700" y="800.3" width="8" height="3.6" stroke="#000" stroke-width="1" fill="#999" rx="1"/><line x1="572.7" y1="562" x2="572.7" y2="692" stroke="#000" stroke-width="1.2"/><line x1="575.2" y1="562" x2="575.2" y2="692" stroke="#000" stroke-width="1.2"/><line x1="588" y1="562" x2="588" y2="692" stroke="#000" stroke-width="1.2"/><line x1="590.8" y1="562" x2="590.8" y2="692" stroke="#000" stroke-width="1.2"/><line x1="640.6" y1="562" x2="640.6" y2="692" stroke="#000" stroke-width="1.2"/><line x1="643.4" y1="562" x2="643.4" y2="692" stroke="#000" stroke-width="1.2"/><line x1="656.3" y1="562" x2="656.3" y2="692" stroke="#000" stroke-width="1.2"/><line x1="659" y1="562" x2="659" y2="692" stroke="#000" stroke-width="1.2"/><line x1="590.4" y1="562" x2="590.4" y2="692" stroke="#000" stroke-width="2.2"/><line x1="641" y1="562" x2="641" y2="692" stroke="#000" stroke-width="2.2"/><rect x="535.4" y="696" width="160.2" height="18.2" stroke="#000" stroke-width="1.4" fill="none" rx="0"/><line x1="552.9" y1="696" x2="552.9" y2="714" stroke="#000" stroke-width="1"/><line x1="678" y1="696" x2="678" y2="714" stroke="#000" stroke-width="1"/>
<use href="#im"/><use href="#im" transform="translate(94.5,1.6)"/><line x1="270" y1="446.6" x2="307" y2="446.6" stroke="#000" stroke-width="1.4"/><line x1="270" y1="449.4" x2="300" y2="449.4" stroke="#000" stroke-width="1.2"/><path d="M365,447.5 L383,452 L433.5,517 Q437,522 436,528 L408,650 Q406,658 398.5,661.5 L393,661" stroke="#000" stroke-width="1.6" fill="none" /><line x1="398.5" y1="661.5" x2="347" y2="600" stroke="#000" stroke-width="1.4"/><line x1="394" y1="662" x2="343" y2="603" stroke="#000" stroke-width="1.1"/><line x1="381.5" y1="453" x2="349" y2="597" stroke="#000" stroke-width="1.5"/><line x1="378.5" y1="455" x2="346.5" y2="597" stroke="#000" stroke-width="1.1"/><path d="M358,455 L373,455 L370,476 L355,476" stroke="#000" stroke-width="1.3" fill="none" /><circle cx="363.7" cy="466.7" r="4" stroke="#000" stroke-width="1.8" fill="none"/><circle cx="363.7" cy="466.7" r="1.5" stroke="#000" stroke-width="1" fill="none"/><rect x="365" y="442" width="5" height="5" stroke="#000" stroke-width="1.3" fill="none" rx="0"/><path d="M365.6,437.7 L373.3,445.4 L378,448" stroke="#000" stroke-width="1.3" fill="none" /><circle cx="347.5" cy="565" r="4" stroke="#000" stroke-width="1.8" fill="none"/><circle cx="344" cy="593" r="3" stroke="#000" stroke-width="1.4" fill="none"/><text x="0" y="0" font-size="7.5" font-family="Liberation Sans" font-weight="bold" fill="#000" transform="translate(386,480) rotate(-76) scale(0.9,1)" text-anchor="middle">PORT 1</text><text x="0" y="0" font-size="7.5" font-family="Liberation Sans" font-weight="bold" fill="#000" transform="translate(393,482) rotate(-76) scale(0.75,1)" text-anchor="middle">1920-2170</text><text x="0" y="0" font-size="7.5" font-family="Liberation Sans" font-weight="bold" fill="#000" transform="translate(370,526) rotate(-76) scale(0.9,1)" text-anchor="middle">GND</text><text x="0" y="0" font-size="7.5" font-family="Liberation Sans" font-weight="bold" fill="#000" transform="translate(414,597) rotate(-76) scale(0.9,1)" text-anchor="middle">PORT 3</text><text x="0" y="0" font-size="7.5" font-family="Liberation Sans" font-weight="bold" fill="#000" transform="translate(421,599) rotate(-76) scale(0.8,1)" text-anchor="middle">COMMON</text><text x="0" y="0" font-size="7.5" font-family="Liberation Sans" font-weight="bold" fill="#000" transform="translate(262,581) rotate(-76) scale(0.9,1)" text-anchor="middle">PORT 1</text><text x="0" y="0" font-size="7.5" font-family="Liberation Sans" font-weight="bold" fill="#000" transform="translate(268,583) rotate(-76) scale(0.7,1)" text-anchor="middle">1920-2170</text><text x="0" y="0" font-size="7.5" font-family="Liberation Sans" font-weight="bold" fill="#000" transform="translate(357,580) rotate(-76) scale(0.9,1)" text-anchor="middle">PORT 2</text><text x="0" y="0" font-size="7.5" font-family="Liberation Sans" font-weight="bold" fill="#000" transform="translate(363,582) rotate(-76) scale(0.7,1)" text-anchor="middle">1710-1880</text><line x1="222" y1="619.6" x2="341" y2="619.6" stroke="#000" stroke-width="1.6"/><line x1="222" y1="622.2" x2="341" y2="622.2" stroke="#000" stroke-width="1.2"/><line x1="222" y1="624.6" x2="341" y2="624.6" stroke="#000" stroke-width="2.4"/><line x1="226" y1="628.1" x2="343" y2="628.1" stroke="#000" stroke-width="1.3"/><line x1="228" y1="630.6" x2="345" y2="630.6" stroke="#000" stroke-width="1.8"/><rect x="226" y="625.1" width="8" height="4" stroke="#000" stroke-width="1" fill="none" rx="0"/><rect x="323" y="625.1" width="8" height="4" stroke="#000" stroke-width="1" fill="none" rx="0"/><line x1="245" y1="651.6" x2="365" y2="651.6" stroke="#000" stroke-width="1.6"/><line x1="245" y1="654.2" x2="365" y2="654.2" stroke="#000" stroke-width="1.2"/><line x1="245" y1="656.6" x2="365" y2="656.6" stroke="#000" stroke-width="2.4"/><line x1="249" y1="660.1" x2="367" y2="660.1" stroke="#000" stroke-width="1.3"/><line x1="251" y1="662.6" x2="369" y2="662.6" stroke="#000" stroke-width="1.8"/><rect x="249" y="657.1" width="8" height="4" stroke="#000" stroke-width="1" fill="none" rx="0"/><rect x="347" y="657.1" width="8" height="4" stroke="#000" stroke-width="1" fill="none" rx="0"/><line x1="341" y1="600" x2="388" y2="660" stroke="#000" stroke-width="1.3"/><line x1="336" y1="603" x2="380" y2="660" stroke="#000" stroke-width="1.1"/><line x1="330" y1="606" x2="372" y2="662" stroke="#000" stroke-width="1.3"/><line x1="322" y1="590" x2="382" y2="672" stroke="#000" stroke-width="1.4"/><line x1="318" y1="596" x2="370" y2="668" stroke="#000" stroke-width="1.1"/><line x1="345" y1="598" x2="392" y2="660" stroke="#000" stroke-width="1"/><path d="M268,666 Q270,673 276,674 H292 L293,667" stroke="#000" stroke-width="1.4" fill="none" /><path d="M340,667 Q342,674 348,675 H365 L366,668" stroke="#000" stroke-width="1.4" fill="none" /><path d="M250,664 L270,675 M300,668 L330,676" stroke="#000" stroke-width="1.2" fill="none" /><line x1="262" y1="600" x2="300" y2="652" stroke="#000" stroke-width="1.2"/><line x1="310" y1="632" x2="306" y2="650" stroke="#000" stroke-width="1.1"/><line x1="320" y1="632" x2="330" y2="652" stroke="#000" stroke-width="1.1"/><path d="M52.0,493.0 C54.7,489.0 61.3,475.8 68.0,469.0 C74.7,462.2 83.7,456.2 92.0,452.0 C100.3,447.8 109.0,445.0 118.0,444.0 C127.0,443.0 138.2,444.7 146.0,446.0 C153.8,447.3 159.8,449.8 165.0,452.0 C170.2,454.2 175.0,457.8 177.0,459.0" stroke="#000" stroke-width="1.3" fill="none" /><path d="M55.0,501.0 C57.8,497.0 65.2,484.0 72.0,477.0 C78.8,470.0 87.8,463.3 96.0,459.0 C104.2,454.7 112.5,452.0 121.0,451.0 C129.5,450.0 139.5,451.5 147.0,453.0 C154.5,454.5 161.2,457.8 166.0,460.0 C170.8,462.2 174.3,465.0 176.0,466.0" stroke="#000" stroke-width="1.3" fill="none" /><line x1="66" y1="477" x2="72" y2="484" stroke="#000" stroke-width="1.2"/><path d="M48.0,522.0 C49.2,526.2 51.7,539.8 55.0,547.0 C58.3,554.2 61.7,560.4 68.0,565.0 C74.3,569.6 85.8,573.2 93.0,574.5 C100.2,575.8 104.8,574.9 111.0,572.6 C117.2,570.4 123.0,565.6 130.0,561.0 C137.0,556.4 148.0,550.0 153.0,545.0 C158.0,540.0 158.8,533.3 160.0,531.0" stroke="#000" stroke-width="1.3" fill="none" /><path d="M45.0,524.0 C46.0,528.5 47.8,543.5 51.0,551.0 C54.2,558.5 57.0,564.3 64.0,569.0 C71.0,573.7 84.2,577.6 93.0,579.0 C101.8,580.4 109.5,579.0 117.0,577.5 C124.5,576.0 131.2,573.2 138.0,570.0 C144.8,566.8 154.7,560.0 158.0,558.0" stroke="#000" stroke-width="1.3" fill="none" /><path d="M111.0,573.0 C113.8,570.5 122.2,562.7 128.0,558.0 C133.8,553.3 141.0,548.8 146.0,545.0 C151.0,541.2 156.0,536.7 158.0,535.0" stroke="#000" stroke-width="1.1" fill="none" /><line x1="126" y1="556" x2="131" y2="562" stroke="#000" stroke-width="1.1"/><path d="M112.0,604.0 C113.0,607.5 115.0,618.5 118.0,625.0 C121.0,631.5 124.7,638.5 130.0,643.0 C135.3,647.5 143.7,650.2 150.0,652.0 C156.3,653.8 160.3,654.3 168.0,653.5 C175.7,652.7 187.2,650.9 196.0,647.0 C204.8,643.1 216.8,632.8 221.0,630.0" stroke="#000" stroke-width="1.3" fill="none" /><path d="M109.0,605.0 C109.8,609.2 111.0,622.8 114.0,630.0 C117.0,637.2 121.0,643.2 127.0,648.0 C133.0,652.8 142.8,656.4 150.0,658.5 C157.2,660.6 161.8,661.1 170.0,660.4 C178.2,659.6 190.0,657.6 199.0,654.0 C208.0,650.4 219.8,641.1 224.0,638.5" stroke="#000" stroke-width="1.3" fill="none" /><path d="M33,500 L44,491 H54 L56,512 L52,521 H38 L32,515 Z" stroke="#000" stroke-width="1.6" fill="none" /><path d="M41,494 L43,511 L51,510 L54,502" stroke="#000" stroke-width="1.1" fill="none" /><rect x="37" y="510" width="10" height="7" stroke="#000" stroke-width="1.2" fill="none" rx="0"/><path d="M41.5,518 L44,574 L48.3,575 L47,520" stroke="#000" stroke-width="1.4" fill="none" /><path d="M93,586 L102,578 H113 L115,597 L111,604 H97 L92,598 Z" stroke="#000" stroke-width="1.6" fill="none" /><path d="M101,582 L103,597 L111,596 L113,588" stroke="#000" stroke-width="1.1" fill="none" /><rect x="96" y="596" width="10" height="7" stroke="#000" stroke-width="1.2" fill="none" rx="0"/><path d="M103,598 L105.5,654 L109.5,655 L108,600" stroke="#000" stroke-width="1.4" fill="none" />
<use href="#rh" transform="translate(0,0)"/>
<use href="#rh" transform="translate(0,388) scale(1,-1)"/>
<use href="#rc" transform="translate(0,0)"/>
<use href="#rh" transform="translate(105.3,0)"/>
<use href="#rh" transform="translate(105.3,388) scale(1,-1)"/>
<use href="#rc" transform="translate(105.3,0)"/>
<line x1="878" y1="94.9" x2="1005" y2="94.9" stroke="#000" stroke-width="1.2"/>
<line x1="878" y1="96.7" x2="1005" y2="96.7" stroke="#000" stroke-width="0.9"/>
<line x1="878" y1="98.5" x2="1005" y2="98.5" stroke="#000" stroke-width="0.9"/>
<line x1="878" y1="100.5" x2="1005" y2="100.5" stroke="#000" stroke-width="0.9"/>
<line x1="878" y1="102.4" x2="1005" y2="102.4" stroke="#000" stroke-width="1.2"/>
<rect x="879.5" y="91.30000000000001" width="8" height="3.6" stroke="#000" stroke-width="1" fill="#9a9a9a" rx="1"/>
<rect x="889" y="91.30000000000001" width="8" height="3.6" stroke="#000" stroke-width="1" fill="#9a9a9a" rx="1"/>
<rect x="985" y="91.30000000000001" width="8" height="3.6" stroke="#000" stroke-width="1" fill="#9a9a9a" rx="1"/>
<rect x="994.5" y="91.30000000000001" width="8" height="3.6" stroke="#000" stroke-width="1" fill="#9a9a9a" rx="1"/>
<line x1="878" y1="292.7" x2="1005" y2="292.7" stroke="#000" stroke-width="1.2"/>
<line x1="878" y1="290.9" x2="1005" y2="290.9" stroke="#000" stroke-width="0.9"/>
<line x1="878" y1="289.09999999999997" x2="1005" y2="289.09999999999997" stroke="#000" stroke-width="0.9"/>
<line x1="878" y1="287.09999999999997" x2="1005" y2="287.09999999999997" stroke="#000" stroke-width="0.9"/>
<line x1="878" y1="285.2" x2="1005" y2="285.2" stroke="#000" stroke-width="1.2"/>
<rect x="879.5" y="292.7" width="8" height="3.6" stroke="#000" stroke-width="1" fill="#9a9a9a" rx="1"/>
<rect x="889" y="292.7" width="8" height="3.6" stroke="#000" stroke-width="1" fill="#9a9a9a" rx="1"/>
<rect x="985" y="292.7" width="8" height="3.6" stroke="#000" stroke-width="1" fill="#9a9a9a" rx="1"/>
<rect x="994.5" y="292.7" width="8" height="3.6" stroke="#000" stroke-width="1" fill="#9a9a9a" rx="1"/>
<line x1="20" y1="194.3" x2="420" y2="194.3" stroke="#8a8a8a" stroke-width="1" stroke-dasharray="28,4,4,4"/>
<line x1="470" y1="194.3" x2="772" y2="194.3" stroke="#8a8a8a" stroke-width="1" stroke-dasharray="28,4,4,4"/>
<line x1="85.6" y1="51.0" x2="85.6" y2="300.0" stroke="#8a8a8a" stroke-width="1" />
<line x1="189.4" y1="51.0" x2="189.4" y2="300.0" stroke="#8a8a8a" stroke-width="1" />
<line x1="247.3" y1="51.0" x2="247.3" y2="137.0" stroke="#8a8a8a" stroke-width="1" />
<line x1="85.6" y1="54.5" x2="268.0" y2="54.5" stroke="#8a8a8a" stroke-width="1" />
<line x1="85.6" y1="54.5" x2="93.1" y2="54.5" stroke="#8a8a8a" stroke-width="1.9"/>
<rect x="93.1" y="52.2" width="7.5" height="4.6" fill="#8a8a8a"/>
<path d="M100.6,52.5 L103.1,51.2 M100.6,56.5 L103.1,57.8" stroke="#8a8a8a" stroke-width="1.2" fill="none"/>
<line x1="189.4" y1="54.5" x2="181.9" y2="54.5" stroke="#8a8a8a" stroke-width="1.9"/>
<rect x="174.4" y="52.2" width="7.5" height="4.6" fill="#8a8a8a"/>
<path d="M174.4,52.5 L171.9,51.2 M174.4,56.5 L171.9,57.8" stroke="#8a8a8a" stroke-width="1.2" fill="none"/>
<line x1="247.3" y1="54.5" x2="254.8" y2="54.5" stroke="#8a8a8a" stroke-width="1.9"/>
<rect x="254.8" y="52.2" width="7.5" height="4.6" fill="#8a8a8a"/>
<path d="M262.3,52.5 L264.8,51.2 M262.3,56.5 L264.8,57.8" stroke="#8a8a8a" stroke-width="1.2" fill="none"/>
<text x="136.5" y="44.6" font-size="17" fill="#7c7c7c" text-anchor="middle" font-weight="bold" dominant-baseline="central" >85</text>
<text x="217.5" y="44.6" font-size="17" fill="#7c7c7c" text-anchor="middle" font-weight="bold" dominant-baseline="central" >47</text>
<line x1="0.0" y1="136.0" x2="250.0" y2="136.0" stroke="#8a8a8a" stroke-width="1" />
<line x1="0.0" y1="252.5" x2="250.0" y2="252.5" stroke="#8a8a8a" stroke-width="1" />
<line x1="3.2" y1="136.0" x2="3.2" y2="252.5" stroke="#8a8a8a" stroke-width="1" />
<line x1="3.2" y1="136.0" x2="3.2" y2="143.5" stroke="#8a8a8a" stroke-width="1.9"/>
<rect x="0.9" y="143.5" width="4.6" height="7.5" fill="#8a8a8a"/>
<path d="M1.2,151.0 L-0.1,153.5 M5.2,151.0 L6.5,153.5" stroke="#8a8a8a" stroke-width="1.2" fill="none"/>
<line x1="3.2" y1="194.3" x2="3.2" y2="186.8" stroke="#8a8a8a" stroke-width="1.9"/>
<rect x="0.9" y="179.3" width="4.6" height="7.5" fill="#8a8a8a"/>
<path d="M1.2,179.3 L-0.1,176.8 M5.2,179.3 L6.5,176.8" stroke="#8a8a8a" stroke-width="1.2" fill="none"/>
<line x1="3.2" y1="194.3" x2="3.2" y2="201.8" stroke="#8a8a8a" stroke-width="1.9"/>
<rect x="0.9" y="201.8" width="4.6" height="7.5" fill="#8a8a8a"/>
<path d="M1.2,209.3 L-0.1,211.8 M5.2,209.3 L6.5,211.8" stroke="#8a8a8a" stroke-width="1.2" fill="none"/>
<line x1="3.2" y1="252.5" x2="3.2" y2="245.0" stroke="#8a8a8a" stroke-width="1.9"/>
<rect x="0.9" y="237.5" width="4.6" height="7.5" fill="#8a8a8a"/>
<path d="M1.2,237.5 L-0.1,235.0 M5.2,237.5 L6.5,235.0" stroke="#8a8a8a" stroke-width="1.2" fill="none"/>
<text x="12.7" y="163.4" font-size="17" fill="#7c7c7c" text-anchor="middle" font-weight="normal" dominant-baseline="central" transform="rotate(90 12.7 163.4)" letter-spacing="1.2">48</text>
<text x="12.7" y="222.2" font-size="17" fill="#7c7c7c" text-anchor="middle" font-weight="normal" dominant-baseline="central" transform="rotate(90 12.7 222.2)" letter-spacing="1.2">47</text>
<line x1="309.5" y1="194.3" x2="398.5" y2="272.5" stroke="#8a8a8a" stroke-width="1" />
<line x1="398.5" y1="272.5" x2="398.5" y2="430.0" stroke="#8a8a8a" stroke-width="1" />
<g transform="translate(367,243.5) rotate(41.3)"><line x1="0" y1="0" x2="7.5" y2="0" stroke="#8a8a8a" stroke-width="1.9"/><rect x="7.5" y="-2.3" width="7.5" height="4.6" fill="#8a8a8a"/><path d="M15,-2 L17.5,-3.3 M15,2 L17.5,3.3" stroke="#8a8a8a" stroke-width="1.2" fill="none"/></g>
<text x="406.5" y="356.0" font-size="17" fill="#7c7c7c" text-anchor="middle" font-weight="bold" dominant-baseline="central" transform="rotate(90 406.5 356.0)" letter-spacing="0.4">Pole dia. 45 -150</text>
<line x1="526.6" y1="62.0" x2="526.6" y2="103.6" stroke="#8a8a8a" stroke-width="1" />
<line x1="705.3" y1="62.0" x2="705.3" y2="103.6" stroke="#8a8a8a" stroke-width="1" />
<line x1="526.6" y1="65.9" x2="705.3" y2="65.9" stroke="#8a8a8a" stroke-width="1" />
<line x1="526.6" y1="65.9" x2="534.1" y2="65.9" stroke="#8a8a8a" stroke-width="1.9"/>
<rect x="534.1" y="63.6" width="7.5" height="4.6" fill="#8a8a8a"/>
<path d="M541.6,63.9 L544.1,62.6 M541.6,67.9 L544.1,69.2" stroke="#8a8a8a" stroke-width="1.2" fill="none"/>
<line x1="705.3" y1="65.9" x2="697.8" y2="65.9" stroke="#8a8a8a" stroke-width="1.9"/>
<rect x="690.3" y="63.6" width="7.5" height="4.6" fill="#8a8a8a"/>
<path d="M690.3,63.9 L687.8,62.6 M690.3,67.9 L687.8,69.2" stroke="#8a8a8a" stroke-width="1.2" fill="none"/>
<text x="615.0" y="55.0" font-size="17" fill="#7c7c7c" text-anchor="middle" font-weight="bold" dominant-baseline="central" >145</text>
<line x1="425.5" y1="103.6" x2="526.0" y2="103.6" stroke="#8a8a8a" stroke-width="1" />
<line x1="425.5" y1="285.0" x2="527.0" y2="285.0" stroke="#8a8a8a" stroke-width="1" />
<line x1="428.7" y1="103.6" x2="428.7" y2="285.0" stroke="#8a8a8a" stroke-width="1" />
<line x1="428.7" y1="103.6" x2="428.7" y2="111.1" stroke="#8a8a8a" stroke-width="1.9"/>
<rect x="426.4" y="111.1" width="4.6" height="7.5" fill="#8a8a8a"/>
<path d="M426.7,118.6 L425.4,121.1 M430.7,118.6 L432.0,121.1" stroke="#8a8a8a" stroke-width="1.2" fill="none"/>
<line x1="428.7" y1="285.0" x2="428.7" y2="277.5" stroke="#8a8a8a" stroke-width="1.9"/>
<rect x="426.4" y="270.0" width="4.6" height="7.5" fill="#8a8a8a"/>
<path d="M426.7,270.0 L425.4,267.5 M430.7,270.0 L432.0,267.5" stroke="#8a8a8a" stroke-width="1.2" fill="none"/>
<text x="437.0" y="193.2" font-size="17" fill="#7c7c7c" text-anchor="middle" font-weight="normal" dominant-baseline="central" transform="rotate(90 437.0 193.2)" letter-spacing="1.3">149</text>
<line x1="459.2" y1="111.8" x2="459.2" y2="276.2" stroke="#8a8a8a" stroke-width="1" />
<line x1="455.0" y1="153.2" x2="516.0" y2="153.2" stroke="#8a8a8a" stroke-width="1" />
<line x1="455.0" y1="234.6" x2="516.0" y2="234.6" stroke="#8a8a8a" stroke-width="1" />
<line x1="455.0" y1="194.3" x2="470.0" y2="194.3" stroke="#8a8a8a" stroke-width="1" />
<line x1="459.2" y1="154.0" x2="459.2" y2="161.5" stroke="#8a8a8a" stroke-width="1.9"/>
<rect x="456.9" y="161.5" width="4.6" height="7.5" fill="#8a8a8a"/>
<path d="M457.2,169.0 L455.9,171.5 M461.2,169.0 L462.5,171.5" stroke="#8a8a8a" stroke-width="1.2" fill="none"/>
<line x1="459.2" y1="234.6" x2="459.2" y2="227.1" stroke="#8a8a8a" stroke-width="1.9"/>
<rect x="456.9" y="219.6" width="4.6" height="7.5" fill="#8a8a8a"/>
<path d="M457.2,219.6 L455.9,217.1 M461.2,219.6 L462.5,217.1" stroke="#8a8a8a" stroke-width="1.2" fill="none"/>
<circle cx="459.2" cy="194.3" r="2.2" fill="#8a8a8a"/>
<text x="468.8" y="131.8" font-size="17" fill="#7c7c7c" text-anchor="middle" font-weight="normal" dominant-baseline="central" transform="rotate(90 468.8 131.8)" letter-spacing="0.6">32,5</text>
<text x="468.8" y="255.8" font-size="17" fill="#7c7c7c" text-anchor="middle" font-weight="normal" dominant-baseline="central" transform="rotate(90 468.8 255.8)" letter-spacing="0.6">32,5</text>
<line x1="508.7" y1="235.0" x2="508.7" y2="326.0" stroke="#8a8a8a" stroke-width="1" />
<line x1="722.2" y1="219.0" x2="722.2" y2="326.0" stroke="#8a8a8a" stroke-width="1" />
<line x1="508.7" y1="322.6" x2="722.2" y2="322.6" stroke="#8a8a8a" stroke-width="1" />
<line x1="508.7" y1="322.6" x2="516.2" y2="322.6" stroke="#8a8a8a" stroke-width="1.9"/>
<rect x="516.2" y="320.3" width="7.5" height="4.6" fill="#8a8a8a"/>
<path d="M523.7,320.6 L526.2,319.3 M523.7,324.6 L526.2,325.9" stroke="#8a8a8a" stroke-width="1.2" fill="none"/>
<line x1="722.2" y1="322.6" x2="714.7" y2="322.6" stroke="#8a8a8a" stroke-width="1.9"/>
<rect x="707.2" y="320.3" width="7.5" height="4.6" fill="#8a8a8a"/>
<path d="M707.2,320.6 L704.7,319.3 M707.2,324.6 L704.7,325.9" stroke="#8a8a8a" stroke-width="1.2" fill="none"/>
<text x="615.0" y="312.0" font-size="17" fill="#7c7c7c" text-anchor="middle" font-weight="bold" dominant-baseline="central" >174</text>
<line x1="501.8" y1="245.8" x2="468.3" y2="305.2" stroke="#8a8a8a" stroke-width="1" />
<line x1="468.3" y1="305.2" x2="468.3" y2="385.0" stroke="#8a8a8a" stroke-width="1" />
<g transform="translate(501.8,245.8) rotate(119.4)"><line x1="0" y1="0" x2="7.5" y2="0" stroke="#8a8a8a" stroke-width="1.9"/><rect x="7.5" y="-2.3" width="7.5" height="4.6" fill="#8a8a8a"/><path d="M15,-2 L17.5,-3.3 M15,2 L17.5,3.3" stroke="#8a8a8a" stroke-width="1.2" fill="none"/></g>
<text x="477.0" y="353.0" font-size="17" fill="#7c7c7c" text-anchor="middle" font-weight="bold" dominant-baseline="central" transform="rotate(90 477.0 353.0)" letter-spacing="1.2">4x &#8709;9</text>
<line x1="722.0" y1="170.0" x2="772.0" y2="170.0" stroke="#8a8a8a" stroke-width="1" />
<line x1="722.0" y1="219.0" x2="772.0" y2="219.0" stroke="#8a8a8a" stroke-width="1" />
<line x1="767.8" y1="126.7" x2="767.8" y2="260.0" stroke="#8a8a8a" stroke-width="1" />
<line x1="767.8" y1="170.0" x2="767.8" y2="162.5" stroke="#8a8a8a" stroke-width="1.9"/>
<rect x="765.5" y="155.0" width="4.6" height="7.5" fill="#8a8a8a"/>
<path d="M765.8,155.0 L764.5,152.5 M769.8,155.0 L771.1,152.5" stroke="#8a8a8a" stroke-width="1.2" fill="none"/>
<line x1="767.8" y1="219.0" x2="767.8" y2="226.5" stroke="#8a8a8a" stroke-width="1.9"/>
<rect x="765.5" y="226.5" width="4.6" height="7.5" fill="#8a8a8a"/>
<path d="M765.8,234.0 L764.5,236.5 M769.8,234.0 L771.1,236.5" stroke="#8a8a8a" stroke-width="1.2" fill="none"/>
<circle cx="767.8" cy="194.3" r="2.2" fill="#8a8a8a"/>
<text x="777.5" y="139.0" font-size="17" fill="#7c7c7c" text-anchor="middle" font-weight="bold" dominant-baseline="central" transform="rotate(90 777.5 139.0)" >20</text>
<text x="777.5" y="245.0" font-size="17" fill="#7c7c7c" text-anchor="middle" font-weight="bold" dominant-baseline="central" transform="rotate(90 777.5 245.0)" >20</text>
<line x1="797.0" y1="330.4" x2="982.3" y2="330.4" stroke="#8a8a8a" stroke-width="1" />
<line x1="819.4" y1="248.0" x2="819.4" y2="335.0" stroke="#8a8a8a" stroke-width="1" />
<line x1="877.0" y1="190.0" x2="877.0" y2="335.0" stroke="#8a8a8a" stroke-width="1" />
<line x1="982.3" y1="190.0" x2="982.3" y2="335.0" stroke="#8a8a8a" stroke-width="1" />
<line x1="819.4" y1="330.4" x2="811.9" y2="330.4" stroke="#8a8a8a" stroke-width="1.9"/>
<rect x="804.4" y="328.1" width="7.5" height="4.6" fill="#8a8a8a"/>
<path d="M804.4,328.4 L801.9,327.1 M804.4,332.4 L801.9,333.7" stroke="#8a8a8a" stroke-width="1.2" fill="none"/>
<line x1="877.0" y1="330.4" x2="884.5" y2="330.4" stroke="#8a8a8a" stroke-width="1.9"/>
<rect x="884.5" y="328.1" width="7.5" height="4.6" fill="#8a8a8a"/>
<path d="M892.0,328.4 L894.5,327.1 M892.0,332.4 L894.5,333.7" stroke="#8a8a8a" stroke-width="1.2" fill="none"/>
<line x1="982.3" y1="330.4" x2="974.8" y2="330.4" stroke="#8a8a8a" stroke-width="1.9"/>
<rect x="967.3" y="328.1" width="7.5" height="4.6" fill="#8a8a8a"/>
<path d="M967.3,328.4 L964.8,327.1 M967.3,332.4 L964.8,333.7" stroke="#8a8a8a" stroke-width="1.2" fill="none"/>
<text x="849.0" y="320.5" font-size="17" fill="#7c7c7c" text-anchor="middle" font-weight="normal" dominant-baseline="central" letter-spacing="1.4">47</text>
<text x="929.6" y="320.5" font-size="17" fill="#7c7c7c" text-anchor="middle" font-weight="normal" dominant-baseline="central" letter-spacing="1.4">85</text>
<line x1="880.0" y1="185.0" x2="1048.0" y2="185.0" stroke="#8a8a8a" stroke-width="1" />
<line x1="815" y1="194.6" x2="1070" y2="194.6" stroke="#8a8a8a" stroke-width="1" stroke-dasharray="14,3,4,3"/>
<line x1="1045.5" y1="161.4" x2="1045.5" y2="253.0" stroke="#8a8a8a" stroke-width="1" />
<line x1="1045.5" y1="185.0" x2="1045.5" y2="177.5" stroke="#8a8a8a" stroke-width="1.9"/>
<rect x="1043.2" y="170.0" width="4.6" height="7.5" fill="#8a8a8a"/>
<path d="M1043.5,170.0 L1042.2,167.5 M1047.5,170.0 L1048.8,167.5" stroke="#8a8a8a" stroke-width="1.2" fill="none"/>
<line x1="1045.5" y1="194.6" x2="1045.5" y2="202.1" stroke="#8a8a8a" stroke-width="1.9"/>
<rect x="1043.2" y="202.1" width="4.6" height="7.5" fill="#8a8a8a"/>
<path d="M1043.5,209.6 L1042.2,212.1 M1047.5,209.6 L1048.8,212.1" stroke="#8a8a8a" stroke-width="1.2" fill="none"/>
<text x="1055.0" y="241.7" font-size="17" fill="#7c7c7c" text-anchor="middle" font-weight="normal" dominant-baseline="central" transform="rotate(90 1055.0 241.7)" >8</text>
<line x1="696.0" y1="537.2" x2="776.0" y2="537.2" stroke="#8a8a8a" stroke-width="1" />
<line x1="700.0" y1="714.4" x2="812.0" y2="714.4" stroke="#8a8a8a" stroke-width="1" />
<line x1="736.0" y1="507.0" x2="812.0" y2="507.0" stroke="#8a8a8a" stroke-width="1" />
<line x1="772.0" y1="537.2" x2="772.0" y2="714.4" stroke="#8a8a8a" stroke-width="1" />
<line x1="772.0" y1="537.2" x2="772.0" y2="544.7" stroke="#8a8a8a" stroke-width="1.9"/>
<rect x="769.7" y="544.7" width="4.6" height="7.5" fill="#8a8a8a"/>
<path d="M770.0,552.2 L768.7,554.7 M774.0,552.2 L775.3,554.7" stroke="#8a8a8a" stroke-width="1.2" fill="none"/>
<line x1="772.0" y1="714.4" x2="772.0" y2="706.9" stroke="#8a8a8a" stroke-width="1.9"/>
<rect x="769.7" y="699.4" width="4.6" height="7.5" fill="#8a8a8a"/>
<path d="M770.0,699.4 L768.7,696.9 M774.0,699.4 L775.3,696.9" stroke="#8a8a8a" stroke-width="1.2" fill="none"/>
<line x1="807.5" y1="507.0" x2="807.5" y2="714.4" stroke="#8a8a8a" stroke-width="1" />
<line x1="807.5" y1="507.0" x2="807.5" y2="514.5" stroke="#8a8a8a" stroke-width="1.9"/>
<rect x="805.2" y="514.5" width="4.6" height="7.5" fill="#8a8a8a"/>
<path d="M805.5,522.0 L804.2,524.5 M809.5,522.0 L810.8,524.5" stroke="#8a8a8a" stroke-width="1.2" fill="none"/>
<line x1="807.5" y1="714.4" x2="807.5" y2="706.9" stroke="#8a8a8a" stroke-width="1.9"/>
<rect x="805.2" y="699.4" width="4.6" height="7.5" fill="#8a8a8a"/>
<path d="M805.5,699.4 L804.2,696.9 M809.5,699.4 L810.8,696.9" stroke="#8a8a8a" stroke-width="1.2" fill="none"/>
<text x="782.0" y="625.3" font-size="17" fill="#7c7c7c" text-anchor="middle" font-weight="normal" dominant-baseline="central" transform="rotate(90 782.0 625.3)" letter-spacing="1.6">143</text>
<text x="817.0" y="609.7" font-size="17" fill="#7c7c7c" text-anchor="middle" font-weight="normal" dominant-baseline="central" transform="rotate(90 817.0 609.7)" letter-spacing="1.6">168</text>
</svg></body></html>
